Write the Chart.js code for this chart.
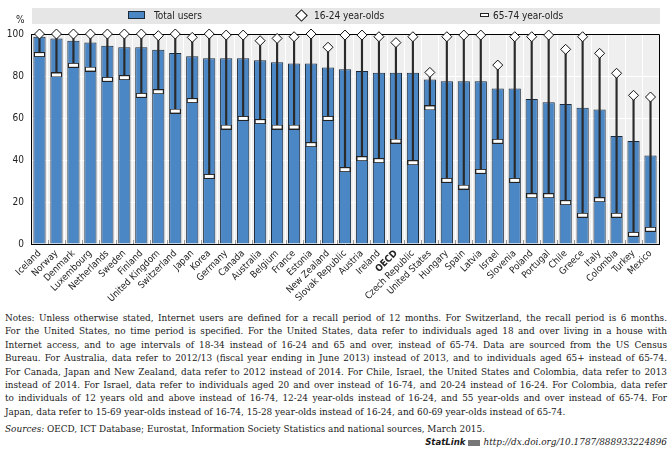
<!DOCTYPE html>
<html>
<head>
<meta charset="utf-8">
<script src="https://cdn.jsdelivr.net/npm/chart.js@4.4.1/dist/chart.umd.min.js"></script>
<style>
  html, body { margin: 0; padding: 0; background: #fff; }
  body { width: 672px; height: 467px; position: relative; overflow: hidden; }
  #wrap { position: absolute; left: 0; top: 0; width: 672px; height: 306px; }
  .sans { font-family: 'Liberation Sans Narrow', 'DejaVu Sans Condensed', 'Roboto', sans-serif; color: #222; }
  #band { position: absolute; left: 32px; top: 8px; width: 628px; height: 16px; background: #e6e6e6; }
  .leg { position: absolute; top: 8px; height: 16px; line-height: 16px; font-size: 10px; }
  #pct { position: absolute; left: 16px; top: 14px; font-size: 10px; }
  #notes { position: absolute; left: 5px; top: 311px; width: 662px; font-family: 'DejaVu Serif', serif; font-stretch: condensed; font-size: 9.9px; line-height: 13.4px; color: #1a1a1a; }
  #notes .l { text-align: justify; text-align-last: justify; white-space: normal; }
  #notes .last { text-align: left; }
  #src { margin-top: 3.5px; }
  #stat { text-align: right; margin-top: 0px; }
  #stat b { font-family: 'DejaVu Sans', 'Liberation Sans', sans-serif; font-style: italic; font-size: 9.5px; }
  .ico { display: inline-block; width: 12px; height: 6px; background: #777; margin: 0 3px 0 3px; vertical-align: middle; }
</style>
</head>
<body>
<div id="wrap"><canvas id="c" width="672" height="306"></canvas></div>
<div id="band"></div>
<div id="pct" class="sans">%</div>
<div class="leg sans" style="left:128px;"><span style="display:inline-block;width:15px;height:6px;background:#4b86c5;border:1px solid #1a2a3a;vertical-align:middle;margin-right:9px;position:relative;top:-1px;"></span>Total users</div>
<div class="leg sans" style="left:297px;"><span style="display:inline-block;width:7px;height:7px;background:#fff;border:1px solid #111;transform:rotate(45deg);vertical-align:middle;margin-right:8px;position:relative;top:-1px;"></span>16-24 year-olds</div>
<div class="leg sans" style="left:480px;"><span style="display:inline-block;width:7px;height:2px;background:#fff;border:1px solid #222;vertical-align:middle;margin-right:4px;position:relative;top:-1px;"></span>65-74 year-olds</div>

<div id="notes">
  <div class="l">Notes: Unless otherwise stated, Internet users are defined for a recall period of 12 months. For Switzerland, the recall period is 6 months.</div>
  <div class="l">For the United States, no time period is specified. For the United States, data refer to individuals aged 18 and over living in a house with</div>
  <div class="l">Internet access, and to age intervals of 18-34 instead of 16-24 and 65 and over, instead of 65-74. Data are sourced from the US Census</div>
  <div class="l">Bureau. For Australia, data refer to 2012/13 (fiscal year ending in June 2013) instead of 2013, and to individuals aged 65+ instead of 65-74.</div>
  <div class="l">For Canada, Japan and New Zealand, data refer to 2012 instead of 2014. For Chile, Israel, the United States and Colombia, data refer to 2013</div>
  <div class="l">instead of 2014. For Israel, data refer to individuals aged 20 and over instead of 16-74, and 20-24 instead of 16-24. For Colombia, data refer</div>
  <div class="l">to individuals of 12 years old and above instead of 16-74, 12-24 year-olds instead of 16-24, and 55 year-olds and over instead of 65-74. For</div>
  <div class="last">Japan, data refer to 15-69 year-olds instead of 16-74, 15-28 year-olds instead of 16-24, and 60-69 year-olds instead of 65-74.</div>
  <div id="src"><i>Sources:</i> OECD, ICT Database; Eurostat, Information Society Statistics and national sources, March 2015.</div>
  <div id="stat"><b>StatLink</b><span class="ico"></span><i>http://dx.doi.org/10.1787/888933224896</i></div>
</div>

<script>
const categories = ["Iceland","Norway","Denmark","Luxembourg","Netherlands","Sweden","Finland","United Kingdom","Switzerland","Japan","Korea","Germany","Canada","Australia","Belgium","France","Estonia","New Zealand","Slovak Republic","Austria","Ireland","OECD","Czech Republic","United States","Hungary","Spain","Latvia","Israel","Slovenia","Poland","Portugal","Chile","Greece","Italy","Colombia","Turkey","Mexico"];

const totalUsers = [98.7,97.8,96.8,96.0,94.4,93.7,93.7,92.5,91.0,89.4,88.4,88.4,88.4,87.5,86.5,85.9,85.9,84.1,83.2,82.4,81.6,81.6,81.6,78.3,77.5,77.5,77.5,74.1,74.1,69.0,67.5,66.7,64.9,64.1,51.4,49.0,42.2];

const age16to24 = [100,100,100,100,100,100,100,99.2,100,98.4,100,99.5,99.5,96.8,97.9,98.7,100,93.7,99.5,99.5,98.7,95.9,98.7,81.7,98.7,99.5,99.5,85.2,98.7,98.7,99.5,92.7,98.7,90.8,81.3,70.8,70.0];

const age65to74 = [90.2,80.5,85.1,83.3,78.4,79.2,70.8,72.5,63.3,68.3,32.2,55.7,59.8,58.3,55.7,55.7,47.3,59.8,35.4,40.6,39.7,49.0,38.7,64.8,30.3,27.1,34.6,48.9,30.3,23.0,23.0,19.7,13.7,21.1,13.7,4.6,7.0];

const yTicks = [0,20,40,60,80,100];

const FAMILY = "'Liberation Sans Narrow', 'DejaVu Sans Condensed', 'Roboto', sans-serif";
Chart.defaults.font.family = FAMILY;
Chart.defaults.color = '#222';

// marker image for 65-74
const mk = document.createElement('canvas');
mk.width = 11; mk.height = 5;
const mctx = mk.getContext('2d');
mctx.fillStyle = '#222'; mctx.fillRect(0,0,11,5);
mctx.fillStyle = '#fff'; mctx.fillRect(1,1,9,3);

const rangeData = age65to74.map((v, i) => [v, age16to24[i]]);

const plotDeco = {
  id: 'plotDeco',
  beforeDraw(chart) {
    const {ctx, chartArea: a} = chart;
    ctx.save();
    ctx.fillStyle = '#efefef';
    ctx.fillRect(a.left, a.top, a.right - a.left, a.bottom - a.top);
    ctx.restore();
  },
  beforeDatasetsDraw(chart) {
    const {ctx, chartArea: a} = chart;
    const xs = chart.scales.x;
    ctx.save();
    ctx.strokeStyle = '#999';
    ctx.lineWidth = 1;
    const n = xs.ticks.length;
    for (let i = 1; i < n; i++) {
      const px = Math.round((xs.getPixelForValue(i - 1) + xs.getPixelForValue(i)) / 2) + 0.5;
      ctx.beginPath(); ctx.moveTo(px, a.bottom); ctx.lineTo(px, a.bottom - 4); ctx.stroke();
    }
    ctx.strokeStyle = '#000';
    ctx.beginPath();
    ctx.moveTo(a.left, a.top + 0.5); ctx.lineTo(a.right + 0.5, a.top + 0.5);
    ctx.lineTo(a.right + 0.5, a.bottom);
    ctx.stroke();
    ctx.restore();
  }
};

new Chart(document.getElementById('c'), {
  data: {
    labels: categories,
    datasets: [
      {
        type: 'line', label: '16-24 year-olds', data: age16to24, showLine: false,
        pointStyle: 'rectRot', pointRadius: 5, pointBackgroundColor: '#fff',
        pointBorderColor: '#111', pointBorderWidth: 1, order: 1, clip: false
      },
      {
        type: 'line', label: '65-74 year-olds', data: age65to74, showLine: false,
        pointStyle: mk, pointRadius: 5, order: 2, clip: false
      },
      {
        type: 'bar', label: 'range', data: rangeData, backgroundColor: '#2a2a2a',
        barThickness: 1.5, grouped: false, order: 3
      },
      {
        type: 'bar', label: 'Total users', data: totalUsers, backgroundColor: '#4b86c5',
        borderColor: '#1a2a3a', borderWidth: 1, barPercentage: 0.72, categoryPercentage: 1,
        grouped: false, order: 4
      }
    ]
  },
  options: {
    responsive: false,
    animation: false,
    events: [],
    layout: { padding: { left: 0, right: 13, top: 34, bottom: 0 } },
    plugins: { legend: { display: false }, tooltip: { enabled: false } },
    scales: {
      x: {
        afterFit(s) { s.height = 62; },
        grid: { offset: true, color: '#ffffff', lineWidth: 1, drawTicks: false },
        border: { display: true, color: '#000', width: 1 },
        ticks: {
          autoSkip: false, minRotation: 45, maxRotation: 45, padding: 4, color: '#222',
          font: (c) => ({ family: FAMILY, size: 9.5, weight: (c.index === categories.indexOf('OECD')) ? 'bold' : 'normal' })
        }
      },
      y: {
        min: 0, max: 100,
        afterFit(s) { s.width = 31; },
        afterBuildTicks(s) { s.ticks = yTicks.map(v => ({ value: v })); },
        grid: { color: '#ffffff', lineWidth: 1, drawTicks: false },
        border: { display: true, color: '#000', width: 1 },
        ticks: { padding: 7, color: '#222', font: { family: FAMILY, size: 10 } }
      }
    }
  },
  plugins: [plotDeco]
});
</script>
</body>
</html>
